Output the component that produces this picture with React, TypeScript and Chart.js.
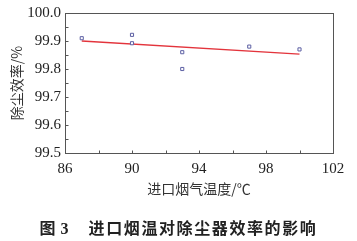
import React, { useEffect, useRef } from "react";
import { Chart, registerables } from "chart.js";

Chart.register(...registerables);

// Data
const tempX: number[] = [87, 90, 90, 93, 93, 97, 100];
const efficiencyY: number[] = [99.91, 99.922, 99.892, 99.86, 99.80, 99.88, 99.87];
const fitX: number[] = [87, 100];
const fitY: number[] = [99.9, 99.853];

const xMajorTicks: number[] = [86, 90, 94, 98, 102];
const xMinorTicks: number[] = [88, 92, 96, 100];
const yMajorTicks: number[] = [99.5, 99.6, 99.7, 99.8, 99.9, 100.0];
const yMinorTicks: number[] = [99.55, 99.65, 99.75, 99.85, 99.95];

const xTitle = "进口烟气温度/℃";
const yTitle = "除尘效率/%";

const frameColor = "#555555";

const framePlugin = {
  id: "frameTicks",
  afterDraw(chart: any) {
    const { ctx, chartArea } = chart;
    const xs = chart.scales.x;
    const ys = chart.scales.y;
    ctx.save();
    ctx.strokeStyle = frameColor;
    ctx.lineWidth = 1;
    ctx.strokeRect(
      Math.round(chartArea.left) + 0.5,
      Math.round(chartArea.top) + 0.5,
      Math.round(chartArea.right - chartArea.left),
      Math.round(chartArea.bottom - chartArea.top)
    );
    const b = Math.round(chartArea.bottom) + 0.5;
    const l = Math.round(chartArea.left) + 0.5;
    ctx.beginPath();
    [...xMajorTicks, ...xMinorTicks].forEach((v) => {
      const px = Math.round(xs.getPixelForValue(v)) + 0.5;
      ctx.moveTo(px, b);
      ctx.lineTo(px, b - 3);
    });
    [...yMajorTicks, ...yMinorTicks].forEach((v) => {
      const py = Math.round(ys.getPixelForValue(v)) + 0.5;
      ctx.moveTo(l, py);
      ctx.lineTo(l + 3, py);
    });
    ctx.stroke();
    ctx.restore();
  },
};

export default function App() {
  const ref = useRef<HTMLCanvasElement | null>(null);
  useEffect(() => {
    if (!ref.current) return;
    const chart = new Chart(ref.current, {
      type: "scatter",
      data: {
        datasets: [
          {
            label: "points",
            data: tempX.map((x, i) => ({ x, y: efficiencyY[i] })),
            pointStyle: "rect",
            pointRadius: 2.2,
            borderColor: "#5c5fa3",
            backgroundColor: "#ffffff",
            borderWidth: 1,
            showLine: false,
          },
          {
            label: "fit",
            data: fitX.map((x, i) => ({ x, y: fitY[i] })),
            showLine: true,
            pointRadius: 0,
            borderColor: "#e3343c",
            borderWidth: 1.3,
          },
        ],
      },
      options: {
        responsive: false,
        animation: false,
        layout: { padding: { left: 0, top: 13, right: 24, bottom: 0 } },
        plugins: {
          legend: { display: false },
          tooltip: { enabled: false },
        },
        scales: {
          x: {
            type: "linear",
            min: 86,
            max: 102,
            afterBuildTicks: (s: any) => {
              s.ticks = xMajorTicks.map((v) => ({ value: v }));
            },
            afterFit: (s: any) => {
              s.height = 88;
            },
            grid: { display: false, drawTicks: false },
            border: { display: false },
            ticks: {
              padding: 7,
              color: "#222",
              font: { family: "Liberation Serif", size: 15 },
              maxRotation: 0,
              autoSkip: false,
              callback: (v: any) => String(v),
            },
            title: {
              display: true,
              text: xTitle,
              color: "#333",
              font: { family: "Noto Sans CJK SC", size: 14 },
              padding: { top: 0, bottom: 44 },
            },
          },
          y: {
            type: "linear",
            min: 99.5,
            max: 100,
            afterBuildTicks: (s: any) => {
              s.ticks = yMajorTicks.map((v) => ({ value: v }));
            },
            afterFit: (s: any) => {
              s.width = 65;
            },
            grid: { display: false, drawTicks: false },
            border: { display: false },
            ticks: {
              padding: 4,
              color: "#222",
              font: { family: "Liberation Serif", size: 15 },
              autoSkip: false,
              callback: (v: any) => Number(v).toFixed(1),
            },
            title: {
              display: true,
              text: yTitle,
              color: "#333",
              font: { family: "Noto Sans CJK SC", size: 14 },
              padding: { top: 8, bottom: 0 },
            },
          },
        },
      },
      plugins: [framePlugin],
    });
    return () => chart.destroy();
  }, []);

  return (
    <div style={{ position: "fixed", left: 0, top: 0, width: 357, height: 241, background: "#fff" }}>
      <canvas ref={ref} width={357} height={241} style={{ position: "absolute", left: 0, top: 0 }} />
      <div
        style={{
          position: "absolute",
          left: 0,
          top: 217,
          width: 357,
          textAlign: "center",
          fontFamily: "'Noto Sans CJK SC'",
          fontWeight: 700,
          fontSize: 16,
          color: "#222",
          whiteSpace: "nowrap",
          lineHeight: "20px",
        }}
      >
        <span>图</span>
        <span style={{ fontFamily: "'Liberation Serif'", fontWeight: 700, marginLeft: 5 }}>3</span>
        <span style={{ marginLeft: 20, letterSpacing: 1.6 }}>进口烟温对除尘器效率的影响</span>
      </div>
    </div>
  );
}
